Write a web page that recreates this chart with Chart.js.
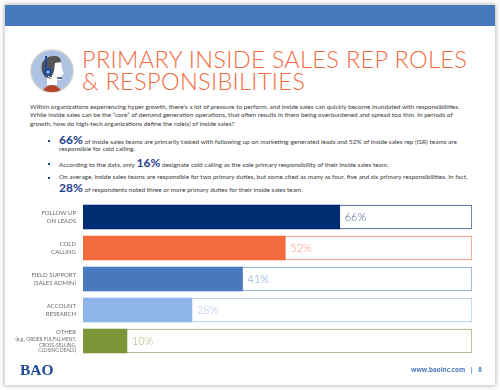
<!DOCTYPE html>
<html>
<head>
<meta charset="utf-8">
<script src="https://cdn.jsdelivr.net/npm/chart.js@4"></script>
<style>
html, body { margin: 0; padding: 0; background: #fff; }
#page { position: relative; width: 500px; height: 390px; overflow: hidden; font-family: Lato, sans-serif; }
#sheet { position: absolute; left: 5px; top: 5px; width: 490px; height: 380px; background: #fff; box-shadow: 0 0 4px 1px #bbb; }
#band { position: absolute; left: 5px; top: 5px; width: 490px; height: 21px; background: #4779bd; }
#icon { position: absolute; left: 30px; top: 49px; }
.title { position: absolute; left: 82px; font-weight: 300; font-size: 23.6px; line-height: 28px; color: #f26b3f; letter-spacing: 0.3px; white-space: nowrap; }
.line { position: absolute; font-size: 6.45px; line-height: 10px; color: #3a3a3a; white-space: nowrap; }
.line b { font-size: 12px; color: #1f3f8f; font-weight: 700; letter-spacing: 0.1px; }
.dot { position: absolute; left: 48px; width: 2px; height: 2px; background: #1f3f8f; }
#logo { position: absolute; left: 20px; top: 361px; font: bold 15.5px "Liberation Serif", serif; color: #1c4a9c; }
#foot { position: absolute; left: 411px; top: 365px; font: bold 6.3px "Open Sans", sans-serif; line-height: 10px; color: #4a78bb; white-space: nowrap; }
#chart { position: absolute; left: 0; top: 0; }
</style>
</head>
<body>
<div id="page">
  <div id="sheet"></div>
  <div id="band"></div>
  <svg id="icon" width="45" height="45" viewBox="0 0 45 45">
    <defs><clipPath id="disc"><circle cx="22" cy="22" r="21"/></clipPath></defs>
    <circle cx="22" cy="22" r="21" fill="#aec3e2" stroke="#cfcfcf" stroke-width="1.5"/>
    <g clip-path="url(#disc)">
      <path d="M12 45 Q13 37 22 36 Q31 37 31 45 Z" fill="#b5442c"/>
      <path d="M17 27 L17 36 L27 36 L27 31 L31 31 L32 26 L34 25 L32 20 L31 12 L20 12 Z" fill="#fff"/>
      <path d="M12 14 Q16 6 26 7 Q31 8 31 13 L25 14 L24 22 L21 30 L15 28 Q10 22 12 14 Z" fill="#555"/>
      <path d="M16 21 L16 7" stroke="#1c4a9c" stroke-width="2" fill="none"/>
      <circle cx="18" cy="23" r="4" fill="#1c4a9c"/><circle cx="18" cy="23" r="1.6" fill="#aec3e2"/>
      <path d="M18 27 Q20 30 29 29" stroke="#fff" stroke-width="1" fill="none"/>
      <path d="M27 29 L32 29" stroke="#1c3f7c" stroke-width="1.5"/>
    </g>
  </svg>
  <div class="title" style="top:45px">PRIMARY INSIDE SALES REP ROLES</div>
  <div class="title" style="top:67px">&amp; RESPONSIBILITIES</div>

  <div class="line" style="left:30px;top:102px">Within organizations experiencing hyper growth, there’s a lot of pressure to perform, and inside sales can quickly become inundated with responsibilities.</div>
  <div class="line" style="left:30px;top:110px">While inside sales can be the “core” of demand generation operations, that often results in them being overburdened and spread too thin. In periods of</div>
  <div class="line" style="left:30px;top:119px">growth, how do high-tech organizations define the role(s) of inside sales?</div>

  <div class="dot" style="top:140px"></div>
  <div class="line" style="left:59px;top:135px"><b>66%</b> of inside sales teams are primarily tasked with following up on marketing-generated leads and 52% of inside sales rep (ISR) teams are</div>
  <div class="line" style="left:59px;top:144px">responsible for cold calling.</div>
  <div class="dot" style="top:163px"></div>
  <div class="line" style="left:59px;top:158px">According to the data, only <b>16%</b> designate cold calling as the sole primary responsibility of their inside sales team.</div>
  <div class="dot" style="top:177px"></div>
  <div class="line" style="left:59px;top:172px">On average, inside sales teams are responsible for two primary duties, but some cited as many as four, five and six primary responsibilities. In fact,</div>
  <div class="line" style="left:59px;top:183px"><b>28%</b> of respondents noted three or more primary duties for their inside sales team.</div>

  <canvas id="chart" width="500" height="390"></canvas>

  <div id="logo">BAO</div>
  <div id="foot">www.baoinc.com &nbsp;&nbsp;|&nbsp;&nbsp; 8</div>
</div>
<script>
// Categories, one array per wrapped label (blank lines keep room for the note under OTHER)
const categories = [
    ['FOLLOW UP', 'ON LEADS'],
    ['COLD', 'CALLING'],
    ['FIELD SUPPORT', '(SALES ADMIN)'],
    ['ACCOUNT', 'RESEARCH'],
    ['OTHER', ' ', ' ', ' ']
];
const otherNote = ['(e.g., ORDER FULFILLMENT,', 'CROSS-SELLING,', 'CLOSING DEALS)'];

// Bar lengths as drawn (the last bar is drawn a little longer than its 10% label)
const barValues = [66, 52, 41, 28, 11.3];
const valueLabels = ['66%', '52%', '41%', '28%', '10%'];
const trackValues = [100, 100, 100, 100, 100];

const barColors = ['#002d72', '#f26b3f', '#4878bd', '#8db5e8', '#7a9639'];
const trackColors = ['#2f5490', '#f58a65', '#7f9fc8', '#aac6ea', '#98ae6c'];
const labelColors = ['#4a5f8f', '#f7977a', '#7ba0d0', '#a9c5ea', '#a3b878'];

// Writes the percentage past each filled bar and the small note under OTHER
const valueLabelPlugin = {
    id: 'valueLabels',
    afterDatasetsDraw(chart) {
        const ctx = chart.ctx;
        const bars = chart.getDatasetMeta(1).data;
        ctx.save();
        ctx.font = '300 11px Lato, sans-serif';
        ctx.textAlign = 'left';
        ctx.textBaseline = 'middle';
        bars.forEach(function(bar, i) {
            ctx.fillStyle = labelColors[i];
            ctx.fillText(valueLabels[i], bar.x + 5, bar.y + 0.5);
        });

        const yScale = chart.scales.y;
        const noteY = yScale.getPixelForTick(4);
        ctx.font = '4.8px Lato, sans-serif';
        ctx.textAlign = 'right';
        ctx.fillStyle = '#6b6b6b';
        otherNote.forEach(function(line, i) {
            ctx.fillText(line, yScale.right - 7, noteY - 1.5 + i * 5.6);
        });
        ctx.restore();
    }
};

new Chart(document.getElementById('chart'), {
    type: 'bar',
    plugins: [valueLabelPlugin],
    data: {
        labels: categories,
        datasets: [
            {
                data: trackValues,
                backgroundColor: '#ffffff',
                borderColor: trackColors,
                borderWidth: 1,
                borderSkipped: false,
                barThickness: 24,
                grouped: false,
                order: 2
            },
            {
                data: barValues,
                backgroundColor: barColors,
                barThickness: 24,
                grouped: false,
                order: 1
            }
        ]
    },
    options: {
        indexAxis: 'y',
        responsive: false,
        animation: false,
        layout: {
            padding: { left: 0, right: 28, top: 201.5, bottom: 33.5 }
        },
        plugins: {
            legend: { display: false },
            title: { display: false },
            tooltip: { enabled: false }
        },
        scales: {
            x: { display: false, min: 0, max: 100 },
            y: {
                border: { display: false },
                grid: { display: false, drawTicks: false },
                afterFit(scale) { scale.width = 83; },
                ticks: {
                    autoSkip: false,
                    padding: 7,
                    color: '#6b6b6b',
                    font: function(c) {
                        return { family: 'Lato, sans-serif', size: 6, lineHeight: c.index === 4 ? 1.0 : 1.4 };
                    }
                }
            }
        }
    }
});
</script>
</body>
</html>
